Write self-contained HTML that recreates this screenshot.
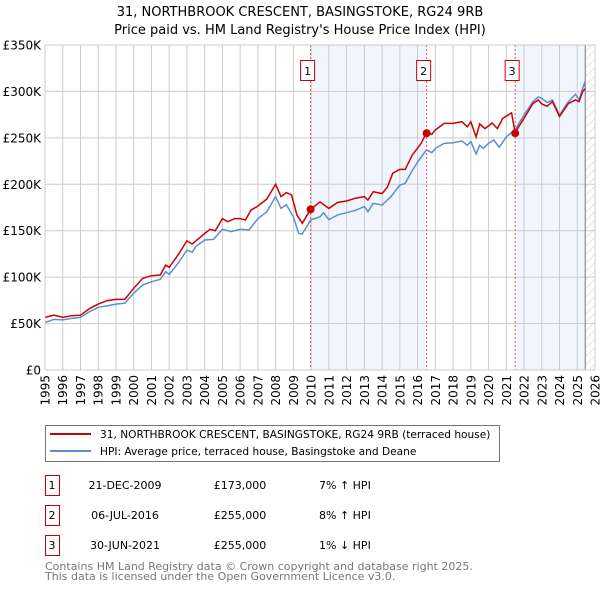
<!DOCTYPE html>
<html><head><meta charset="utf-8"><style>
body{margin:0;background:#fff;font-family:"Liberation Sans","DejaVu Sans",sans-serif;}
svg text{font-family:"DejaVu Sans","Liberation Sans",sans-serif;}
</style></head><body>
<svg id="c" width="600" height="590" xmlns="http://www.w3.org/2000/svg">
<defs><pattern id="hatch" width="6" height="6" patternUnits="userSpaceOnUse" patternTransform="rotate(45)"><line x1="0" y1="0" x2="0" y2="6" stroke="#ccc" stroke-width="1"/></pattern></defs>
<text x="300" y="16" text-anchor="middle" font-size="13">31, NORTHBROOK CRESCENT, BASINGSTOKE, RG24 9RB</text>
<text x="300" y="34" text-anchor="middle" font-size="13">Price paid vs. HM Land Registry's House Price Index (HPI)</text>
<g id="plot"></g>
<g>
<rect x="45.5" y="425.5" width="454" height="36" fill="#fff" stroke="#777"/>
<line x1="50" y1="434" x2="91" y2="434" stroke="#c00" stroke-width="2"/>
<text x="100" y="438" font-size="10.6">31, NORTHBROOK CRESCENT, BASINGSTOKE, RG24 9RB (terraced house)</text>
<line x1="50" y1="451" x2="91" y2="451" stroke="#5b8fd0" stroke-width="2"/>
<text x="100" y="455" font-size="10.6">HPI: Average price, terraced house, Basingstoke and Deane</text>
</g>
<g id="table" font-size="11"></g>
<text x="45" y="570" font-size="11" fill="#777">Contains HM Land Registry data © Crown copyright and database right 2025.</text>
<text x="45" y="580" font-size="11" fill="#777">This data is licensed under the Open Government Licence v3.0.</text>
</svg>
<script>
const yTicks=[0,50,100,150,200,250,300,350];
const yTickLabels=["£0","£50K","£100K","£150K","£200K","£250K","£300K","£350K"];
const xYears=[1995,1996,1997,1998,1999,2000,2001,2002,2003,2004,2005,2006,2007,2008,2009,2010,2011,2012,2013,2014,2015,2016,2017,2018,2019,2020,2021,2022,2023,2024,2025,2026];
const hpiT=[1995,1995.5,1996,1996.5,1997,1997.5,1998,1998.5,1999,1999.5,2000,2000.5,2001,2001.5,2001.8,2002,2002.5,2003,2003.3,2003.5,2004,2004.5,2005,2005.5,2006,2006.5,2007,2007.5,2008,2008.3,2008.6,2009,2009.3,2009.5,2009.97,2010.5,2010.7,2011,2011.5,2012,2012.5,2013,2013.2,2013.5,2014,2014.5,2015,2015.3,2015.7,2016,2016.5,2016.8,2017,2017.5,2018,2018.5,2018.8,2019,2019.3,2019.5,2019.7,2020,2020.3,2020.6,2021,2021.5,2022,2022.5,2022.8,2023,2023.3,2023.6,2024,2024.5,2024.9,2025.1,2025.3,2025.4,2025.45];
const hpiV=[51,54.5,54,55.6,56.7,62.8,67.5,69,71,72,82.6,91.5,95,97.6,106,103,115,129,127,133,140,140.7,151.5,149,151.5,150.8,163,170.5,186.7,174,178,165,147,146.5,161.5,165,169.4,162,167,169.4,172,176,170.5,179.5,177.7,186.7,199,201,215,224,237,234,238.7,244,244.8,246.6,242,246,232.6,242,238.7,244,247.7,239.8,251,259,274.6,289,294,292.6,288,290.8,274.6,289,297,290.8,303,308.7,305];
const propT=[1995,1995.5,1996,1996.5,1997,1997.5,1998,1998.5,1999,1999.5,2000,2000.5,2001,2001.5,2001.8,2002,2002.5,2003,2003.3,2003.6,2004,2004.3,2004.6,2005,2005.3,2005.7,2006,2006.3,2006.6,2007,2007.5,2008,2008.3,2008.6,2008.9,2009.2,2009.5,2009.97,2010.5,2011,2011.5,2012,2012.5,2013,2013.2,2013.5,2014,2014.3,2014.6,2015,2015.3,2015.7,2016.2,2016.51,2016.8,2017,2017.5,2018,2018.5,2018.8,2019,2019.3,2019.5,2019.8,2020.2,2020.5,2020.8,2021.3,2021.4,2021.5,2022,2022.5,2022.8,2023,2023.3,2023.6,2024,2024.5,2024.9,2025.1,2025.3,2025.45];
const propV=[56.7,59,56.7,58.5,59,66,71,74.7,76,76,88,98.7,101.6,102.3,113,110.6,124,139,135.7,140.7,147,151.5,150,163,159.7,163,163,161.5,172,176.6,184,200,186.7,191,188.5,167,158,173,181,174,180.5,182,185,186.7,183,192,190,197,211.8,216,216,231.5,244,256,253.8,258.5,265.6,265.6,267.4,262,267.4,251,265,260,266,260,271,277,265.6,256,271,287,290.8,286.5,284,289,273,287,290.8,289,299.7,303];
const saleLabels=["1","2","3"];
const saleT=[2009.97,2016.51,2021.5];
const saleV=[173,255,255];
const saleDates=["21-DEC-2009","06-JUL-2016","30-JUN-2021"];
const salePrices=["£173,000","£255,000","£255,000"];
const saleHpi=["7% ↑ HPI","8% ↑ HPI","1% ↓ HPI"];
const dataEnd=2025.45;

const X0=45,X1=595,Y0=370,Y1=45;
const xs=t=>X0+(t-1995)/(2026-1995)*(X1-X0);
const ys=v=>Y0-v/350*(Y0-Y1);
const NS="http://www.w3.org/2000/svg";
const plot=document.getElementById('plot');
function mk(tag,attrs,parent){const e=document.createElementNS(NS,tag);for(const k in attrs)e.setAttribute(k,attrs[k]);(parent||plot).appendChild(e);return e;}

let r=mk('rect',{x:X0,y:Y1,width:X1-X0,height:Y0-Y1,fill:'#fff'});


r=mk('rect',{x:xs(saleT[0]),y:Y1,width:xs(saleT[1])-xs(saleT[0]),height:Y0-Y1,fill:'#eef3fc',opacity:0.8});


r=mk('rect',{x:xs(saleT[2]),y:Y1,width:xs(dataEnd)-xs(saleT[2]),height:Y0-Y1,fill:'#eef3fc',opacity:0.8});


r=mk('rect',{x:xs(dataEnd),y:Y1,width:X1-xs(dataEnd),height:Y0-Y1,fill:'url(#hatch)'});



xYears.forEach(y=>{
  const l=mk('line',{x1:xs(y),x2:xs(y),y1:Y1,y2:Y0,stroke:'#ccc','stroke-width':1});
  
  
  const t=mk('text',{x:0,y:0,'font-size':12,'text-anchor':'end',transform:`translate(${xs(y)+4.5},${Y0+5}) rotate(-90)`});
  t.textContent=y;
  
  
});
yTicks.forEach((v,i)=>{
  const l=mk('line',{x1:X0,x2:X1,y1:ys(v),y2:ys(v),stroke:'#ccc','stroke-width':1});
  
  
  const t=mk('text',{x:X0-4,y:ys(v)+4.5,'font-size':12,'text-anchor':'end'});
  t.textContent=yTickLabels[i];
  
  
});
let el=mk('line',{x1:xs(dataEnd),x2:xs(dataEnd),y1:Y1,y2:Y0,stroke:'#777','stroke-width':1});



const path=(T,V)=>T.map((t,i)=>(i?'L':'M')+xs(t).toFixed(1)+','+ys(V[i]).toFixed(1)).join('');
el=mk('path',{d:path(hpiT,hpiV),fill:'none',stroke:'#5b8fd0','stroke-width':1.5});


el=mk('path',{d:path(propT,propV),fill:'none',stroke:'#c00','stroke-width':1.5});



saleT.forEach((t,i)=>{
  const x=xs(t);
  let l=mk('line',{x1:x,x2:x,y1:Y1,y2:Y0,stroke:'#e55','stroke-width':1,'stroke-dasharray':'2,2'});
  
  
  let d=mk('circle',{cx:x,cy:ys(saleV[i]),r:4,fill:'#c00'});
  
  
  let b=mk('rect',{x:x-10,y:60.5,width:14,height:20,fill:'#fff',stroke:'#c00'});
  
  
  let tx=mk('text',{x:x-3,y:75,'font-size':11,'text-anchor':'middle'});
  tx.textContent=saleLabels[i];
  
  
});
el=mk('rect',{x:X0,y:Y1,width:X1-X0,height:Y0-Y1,fill:'none',stroke:'#ccc'});



const tb=document.getElementById('table');
saleLabels.forEach((s,i)=>{
  const y=475+i*30;
  let b=mk('rect',{x:45.5,y:y+0.5,width:14,height:20,fill:'#fff',stroke:'#c00'},tb);
  
  
  const cols=[[52,s,'middle'],[125,saleDates[i],'middle'],[240,salePrices[i],'middle'],[319,saleHpi[i],'start']];
  cols.forEach(c=>{
    const t=mk('text',{x:c[0],y:y+14,'text-anchor':c[2]},tb);
    t.textContent=c[1];
    
    
  });
});
</script>
</body></html>
